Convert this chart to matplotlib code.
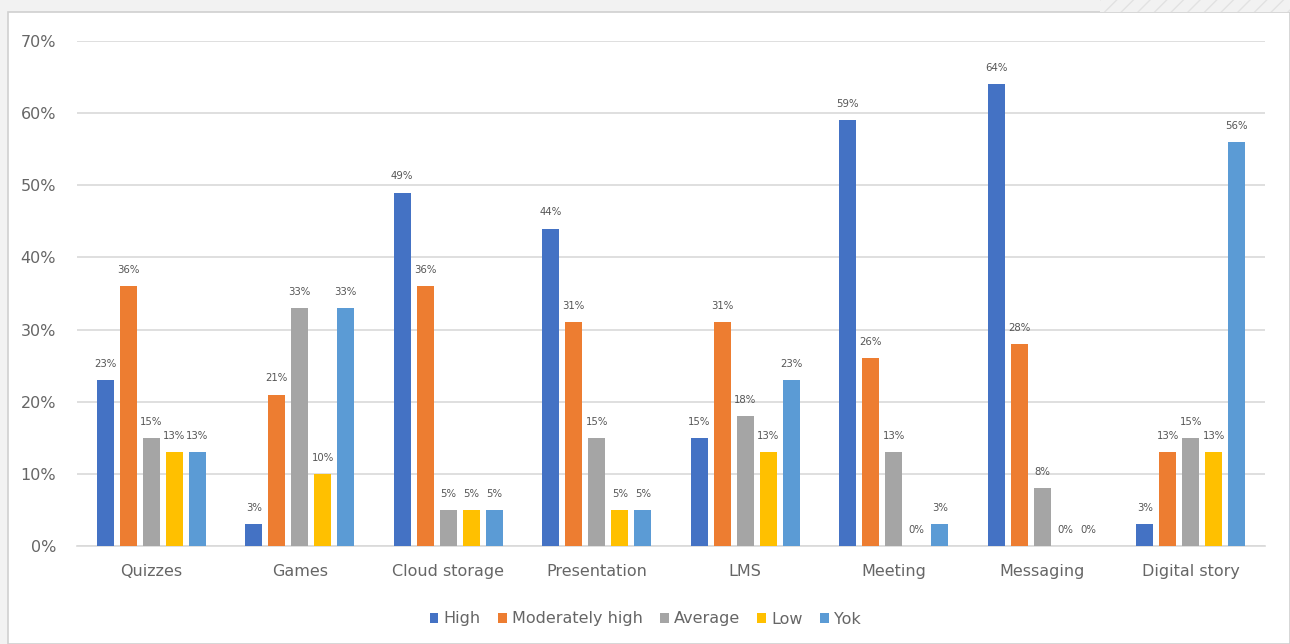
import matplotlib.pyplot as plt
import matplotlib.patches as patches
from matplotlib.ticker import FuncFormatter
import numpy as np

categories = ["Quizzes", "Games", "Cloud storage", "Presentation", "LMS",
              "Meeting", "Messaging", "Digital story"]
series_names = ["High", "Moderately high", "Average", "Low", "Yok"]
high = [23, 3, 49, 44, 15, 59, 64, 3]
moderately_high = [36, 21, 36, 31, 31, 26, 28, 13]
average = [15, 33, 5, 15, 18, 13, 8, 15]
low = [13, 10, 5, 5, 13, 0, 0, 13]
yok = [13, 33, 5, 5, 23, 3, 0, 56]
colors = ["#4472C4", "#ED7D31", "#A5A5A5", "#FFC000", "#5B9BD5"]

text_color = "#666666"
plt.rcParams['font.family'] = ['DejaVu Sans']

fig = plt.figure(figsize=(12.9, 6.44), dpi=100)
fig.patch.set_facecolor("#f2f2f2")

# white chart panel with thin border (behind the axes)
panel = patches.Rectangle((8 / 1290, 0), 1 - 8 / 1290, 1 - 12 / 644,
                          transform=fig.transFigure, facecolor="white",
                          edgecolor="#d0d0d0", linewidth=1.2, zorder=-10)
fig.patches.append(panel)
# faint hatch decoration in the top band
deco = patches.Rectangle((1100 / 1290, 1 - 12 / 644), 190 / 1290, 12 / 644,
                         transform=fig.transFigure, facecolor="#f2f2f2",
                         edgecolor="#e2e2e2", hatch="//", linewidth=0, zorder=-10)
fig.patches.append(deco)

ax = fig.add_axes([77 / 1290, 1 - 546 / 644, (1265 - 77) / 1290, (546 - 41) / 644])
ax.set_facecolor("none")

all_values = [high, moderately_high, average, low, yok]
x = np.arange(len(categories))
slot = 0.155
bar_w = 0.115
for i, (name, vals, col) in enumerate(zip(series_names, all_values, colors)):
    pos = x + (i - 2) * slot
    v = np.array(vals) / 100
    ax.bar(pos, v, width=bar_w, color=col, label=name, zorder=3)
    for px, pv in zip(pos, vals):
        ax.annotate(f"{pv}%", (px, pv / 100), xytext=(0, 8),
                    textcoords="offset points", ha="center", va="bottom",
                    fontsize=7.3, color="#555555", zorder=4)

ax.set_xlim(-0.5, len(categories) - 0.5)
ax.set_ylim(0, 0.7)
ax.set_yticks(np.arange(0, 0.71, 0.1))
ax.yaxis.set_major_formatter(FuncFormatter(lambda v, p: f"{v * 100:.0f}%"))
ax.set_xticks(x)
ax.set_xticklabels(categories)
ax.tick_params(axis='both', length=0, labelsize=11.5, colors=text_color)
ax.tick_params(axis='y', pad=15)
ax.tick_params(axis='x', pad=13)
ax.grid(axis='y', color="#d9d9d9", linewidth=1.2, zorder=0)
ax.set_axisbelow(True)
for s in ["top", "right", "left"]:
    ax.spines[s].set_visible(False)
ax.spines["bottom"].set_color("#d9d9d9")
ax.spines["bottom"].set_linewidth(1.2)

leg = fig.legend(loc="center", bbox_to_anchor=(0.5, 1 - 619 / 644), ncol=5,
                 frameon=False, fontsize=11.5, handlelength=0.55, handleheight=0.55,
                 handletextpad=0.3, columnspacing=1.1)
for t in leg.get_texts():
    t.set_color(text_color)

fig.savefig("out.png", dpi=100, facecolor=fig.get_facecolor())
